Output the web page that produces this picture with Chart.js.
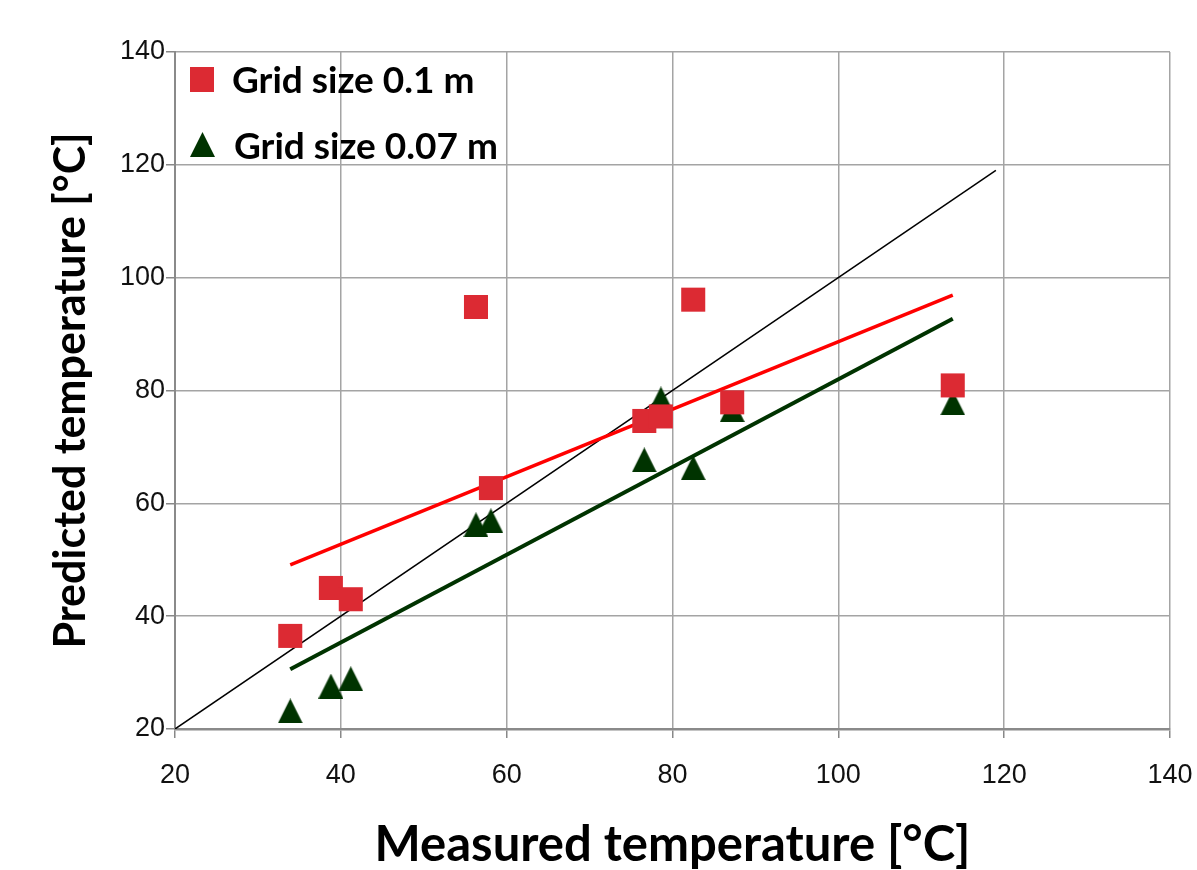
<!DOCTYPE html>
<html>
<head>
<meta charset="utf-8">
<script src="https://cdn.jsdelivr.net/npm/chart.js@4.4.1/dist/chart.umd.min.js"></script>
<style>
  html, body { margin: 0; padding: 0; background: #ffffff; }
  #wrap { width: 1197px; height: 870px; position: relative; }
</style>
</head>
<body>
<div id="wrap"><canvas id="c" width="1197" height="870"></canvas></div>
<script>
// ---- data ----
const measured        = [33.9, 38.8, 41.2, 56.3, 58.1, 76.6, 78.6, 82.5, 87.2, 113.8];
const predicted01     = [36.5, 45.0, 43.0, 94.8, 62.7, 74.6, 75.4, 96.1, 77.9, 80.9];
const predicted007    = [23.2, 27.6, 28.9, 56.2, 56.9, 67.7, 78.5, 66.3, 76.6, 77.8];
const fitX            = [33.9, 113.8];
const fit01Y          = [49.1, 96.9];
const fit007Y         = [30.6, 92.7];
const identityXY      = [20, 119];
const seriesLabels    = ['Grid size 0.1 m', 'Grid size 0.07 m'];
const xTitle          = 'Measured temperature [°C]';
const yTitle          = 'Predicted temperature [°C]';
const axisMin = 20, axisMax = 140, axisStep = 20;

const RED = '#dc2a33';
const GREEN = '#003300';

function pts(xs, ys) { return xs.map((x, i) => ({ x: x, y: ys[i] })); }

// triangle marker image
function makeTriangle(w, h, color) {
  const cv = document.createElement('canvas');
  cv.width = w; cv.height = h;
  const g = cv.getContext('2d');
  g.fillStyle = color;
  g.beginPath();
  g.moveTo(w / 2, 0);
  g.lineTo(w, h);
  g.lineTo(0, h);
  g.closePath();
  g.fill();
  return cv;
}
const tri = makeTriangle(25, 25, GREEN);

const legendPlugin = {
  id: 'insideLegend',
  afterDatasetsDraw(chart) {
    const ctx = chart.ctx;
    ctx.save();
    ctx.fillStyle = RED;
    ctx.fillRect(190, 67, 24, 25);
    ctx.drawImage(tri, 190, 132);
    ctx.fillStyle = '#000';
    ctx.font = 'bold 37px Lato';
    ctx.textBaseline = 'middle';
    ctx.textAlign = 'left';
    ctx.fillText(seriesLabels[0], 232, 81);
    ctx.fillText(seriesLabels[1], 234, 147);
    ctx.restore();
  }
};

new Chart(document.getElementById('c'), {
  type: 'scatter',
  data: {
    datasets: [
      {
        label: seriesLabels[0],
        data: pts(measured, predicted01),
        pointStyle: 'rect',
        pointRadius: 17,
        pointHoverRadius: 17,
        backgroundColor: RED,
        borderColor: RED,
        borderWidth: 0,
        order: 0
      },
      {
        label: seriesLabels[1],
        data: pts(measured, predicted007),
        pointStyle: tri,
        pointRadius: 13,
        backgroundColor: GREEN,
        borderColor: GREEN,
        order: 1
      },
      {
        label: 'fit 0.1',
        data: pts(fitX, fit01Y),
        showLine: true,
        borderColor: '#ff0000',
        borderWidth: 3.5,
        pointRadius: 0,
        order: 2
      },
      {
        label: 'fit 0.07',
        data: pts(fitX, fit007Y),
        showLine: true,
        borderColor: GREEN,
        borderWidth: 4,
        pointRadius: 0,
        order: 3
      },
      {
        label: 'y = x',
        data: pts(identityXY, identityXY),
        showLine: true,
        borderColor: '#000000',
        borderWidth: 1.5,
        pointRadius: 0,
        order: 4
      }
    ]
  },
  options: {
    responsive: false,
    animation: false,
    layout: { padding: { top: 52, right: 27, left: 0, bottom: 0 } },
    plugins: {
      legend: { display: false },
      tooltip: { enabled: false },
      title: { display: false }
    },
    scales: {
      x: {
        type: 'linear',
        min: axisMin, max: axisMax,
        ticks: {
          stepSize: axisStep,
          color: '#111',
          font: { family: 'Liberation Sans', size: 27 },
          padding: 21
        },
        grid: { color: '#a4a4a4', lineWidth: 1.5, tickLength: 9, tickColor: '#888', tickWidth: 1.5 },
        border: { color: '#8a8a8a', width: 2.5 },
        title: {
          display: true,
          text: xTitle,
          color: '#000',
          font: { family: 'Lato', weight: 'bold', size: 49, lineHeight: 1 },
          padding: { top: 0, bottom: 0 }
        },
        afterFit(scale) {
          scale.height = 141;
          scale.paddingRight = 0;
          scale.paddingLeft = 0;
        }
      },
      y: {
        type: 'linear',
        min: axisMin, max: axisMax,
        ticks: {
          stepSize: axisStep,
          color: '#111',
          font: { family: 'Liberation Sans', size: 27 },
          padding: 1
        },
        grid: { color: '#a4a4a4', lineWidth: 1.5, tickLength: 9, tickColor: '#888', tickWidth: 1.5 },
        border: { color: '#8a8a8a', width: 2 },
        title: {
          display: true,
          text: yTitle,
          color: '#000',
          font: { family: 'Lato', weight: 'bold', size: 43, lineHeight: 1 },
          padding: { top: 50, bottom: 0 }
        },
        afterFit(scale) {
          scale.width = 175;
          scale.paddingTop = 0;
          scale.paddingBottom = 0;
        }
      }
    }
  },
  plugins: [legendPlugin]
});
</script>
</body>
</html>
